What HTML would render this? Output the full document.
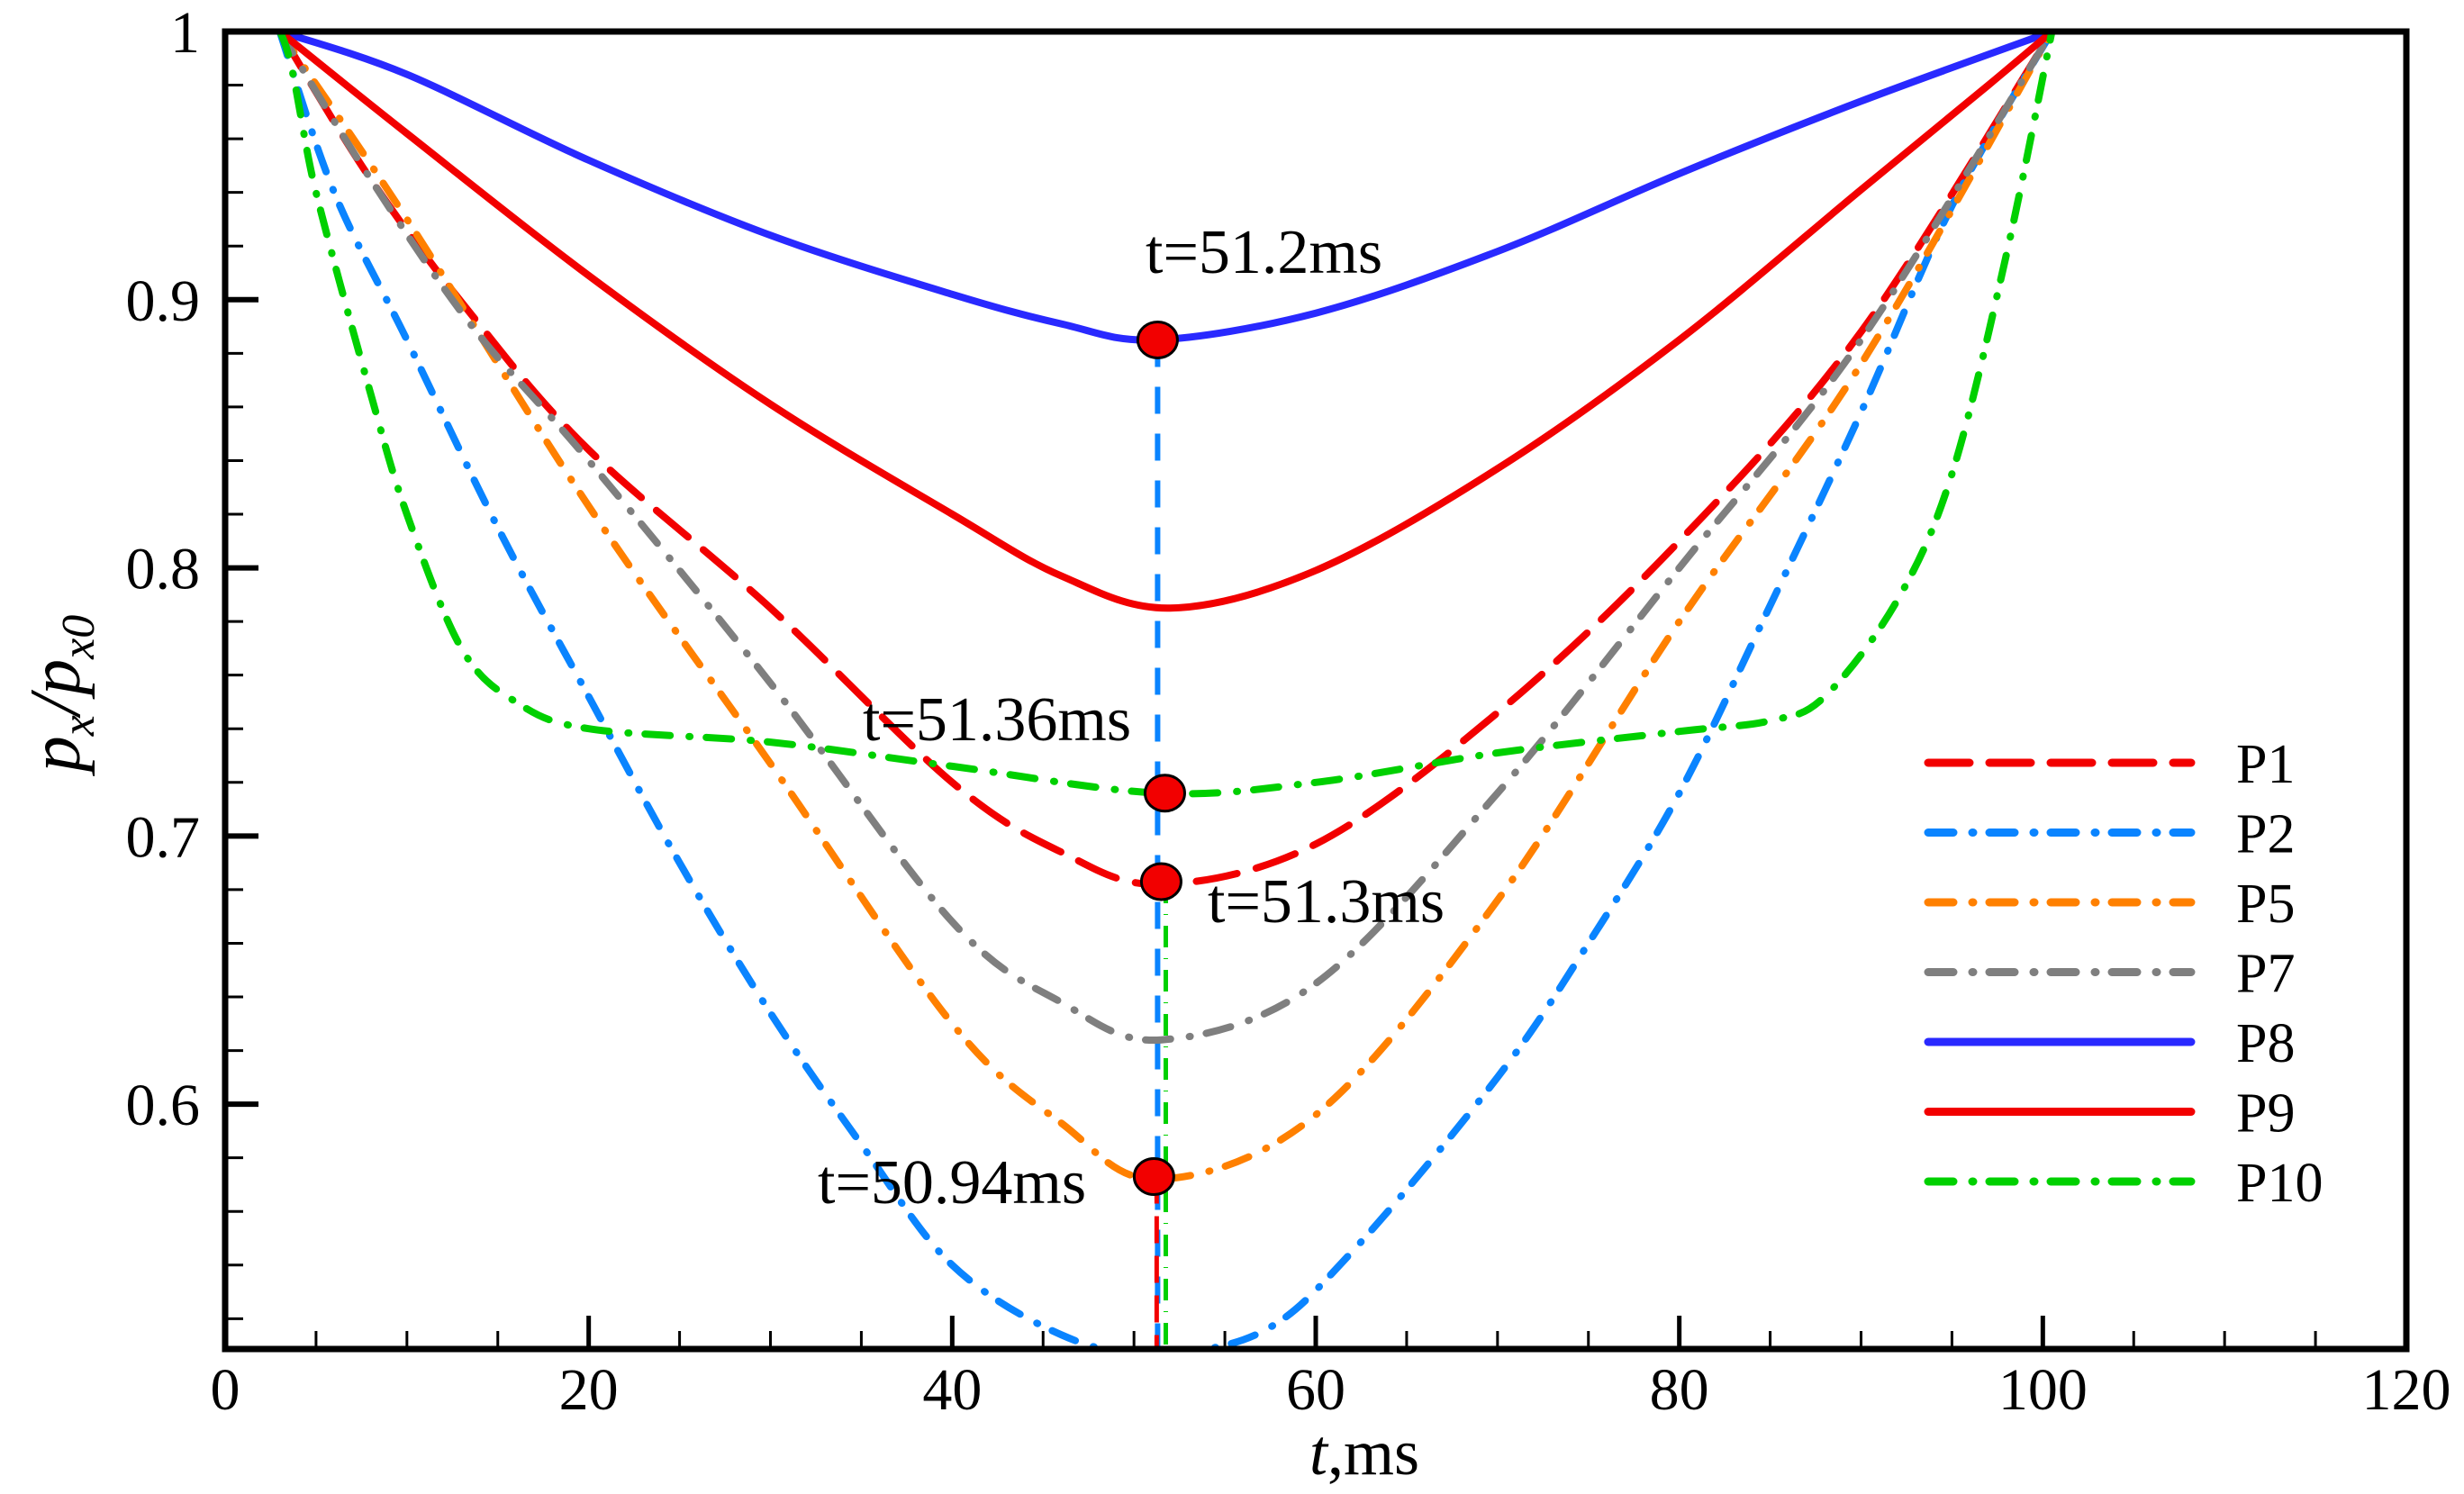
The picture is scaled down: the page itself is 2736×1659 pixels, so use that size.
<!DOCTYPE html>
<html><head><meta charset="utf-8"><style>
html,body{margin:0;padding:0;background:#fff;}
svg{display:block;}
text{font-family:"Liberation Serif",serif;fill:#000;}
</style></head><body>
<svg id="chart" width="2736" height="1659" viewBox="0 0 2736 1659" xmlns="http://www.w3.org/2000/svg">
<g id="series"></g>
<g id="axes"></g>
<g id="legend"></g>
</svg>
<script>
const xTicks=[0,20,40,60,80,100,120];
const yTicks=[0.6,0.7,0.8,0.9,1];
const yTickLabels=["0.6","0.7","0.8","0.9","1"];
const seriesNames=["P1","P2","P5","P7","P8","P9","P10"];
const p1T=[3,8,13.6,20,30,40,46,51.5,60,70,80,90,100.5];
const p1V=[1,0.945,0.894,0.844,0.785,0.72,0.694,0.682,0.697,0.746,0.81,0.888,1];
const p2T=[3,6,10,15,20,25,30,35,40,46,51,57,62,70,75,80,85,90,95,100.5];
const p2V=[1,0.94,0.885,0.815,0.752,0.69,0.634,0.585,0.54,0.514,0.507,0.515,0.545,0.61,0.66,0.716,0.786,0.858,0.935,1];
const p5T=[3,10,20,30,40,46,51.3,60,70,80,90,100.5];
const p5V=[1,0.93,0.823,0.727,0.63,0.593,0.572,0.596,0.676,0.78,0.876,1];
const p7T=[3,8,13.6,20,30,40,46,51.5,60,70,80,90,100.5];
const p7V=[1,0.945,0.89,0.84,0.757,0.668,0.638,0.624,0.645,0.716,0.8,0.885,1];
const p8T=[3,10,20,30,40,46,51.2,60,70,80,90,100.5];
const p8V=[1,0.984,0.952,0.924,0.902,0.891,0.885,0.895,0.918,0.947,0.974,1];
const p9T=[3,10,20,30,40,46,52,60,70,80,90,97,100.5];
const p9V=[1,0.962,0.909,0.861,0.82,0.797,0.785,0.799,0.837,0.885,0.941,0.98,1];
const p10T=[0,3,5,8,10,13,16,20,30,40,51.4,60,70,80,85,88,92,95,98,100.5];
const p10V=[1,1,0.94,0.865,0.82,0.77,0.75,0.74,0.735,0.726,0.716,0.72,0.731,0.739,0.743,0.752,0.788,0.835,0.917,1];
const markerT=[51.3,51.7,51.5,51.1];
const markerV=[0.885,0.716,0.683,0.573];
const annotText=["t=51.2ms","t=51.36ms","t=51.3ms","t=50.94ms"];

const L=250,R=2672,T=35,B=1498;
const X0=0,X1=120,Y0=0.5087,Y1=1;
const xs=t=>L+(t-X0)/(X1-X0)*(R-L);
const ys=v=>B-(v-Y0)/(Y1-Y0)*(B-T);
const NS="http://www.w3.org/2000/svg";
function mk(tag,attrs,parent){const e=document.createElementNS(NS,tag);for(const k in attrs)e.setAttribute(k,attrs[k]);parent.appendChild(e);return e;}
function smooth(T_,V_){
  const p=T_.map((t,i)=>[xs(t),ys(V_[i])]);
  let d="M"+p[0][0].toFixed(1)+","+p[0][1].toFixed(1);
  for(let i=0;i<p.length-1;i++){
    const a=p[Math.max(0,i-1)],b=p[i],c=p[i+1],e=p[Math.min(p.length-1,i+2)];
    const c1=[b[0]+(c[0]-a[0])/6,b[1]+(c[1]-a[1])/6],c2=[c[0]-(e[0]-b[0])/6,c[1]-(e[1]-b[1])/6];
    d+=" C"+c1[0].toFixed(1)+","+c1[1].toFixed(1)+" "+c2[0].toFixed(1)+","+c2[1].toFixed(1)+" "+c[0].toFixed(1)+","+c[1].toFixed(1);
  }
  return d;
}
const colors=["#f20000","#0a84ff","#ff8000","#7f7f7f","#2929ff","#f20000","#00d000"];
const dashes=["46 22","28 21 1 18","28 21 1 18","28 21 1 18","","","28 21 1 18"];
const Ts=[p1T,p2T,p5T,p7T,p8T,p9T,p10T];
const Vs=[p1V,p2V,p5V,p7V,p8V,p9V,p10V];
const sg=document.getElementById("series");
const clip=mk("clipPath",{id:"pc"},sg);mk("rect",{x:L,y:T,width:R-L,height:B-T},clip);
const cg=mk("g",{"clip-path":"url(#pc)"},sg);
const vl1=mk("line",{x1:xs(markerT[0]),y1:ys(markerV[0]),x2:xs(markerT[0]),y2:B,stroke:"#0a84ff","stroke-width":6,"stroke-dasharray":"30 22"},cg);


const vl2=mk("line",{x1:xs(markerT[3])+3,y1:ys(markerV[3]),x2:xs(markerT[3])+3,y2:B,stroke:"#f20000","stroke-width":5,"stroke-dasharray":"30 14"},cg);


const vl3=mk("line",{x1:xs(markerT[1])+1,y1:ys(markerV[2]),x2:xs(markerT[1])+1,y2:B,stroke:"#00d000","stroke-width":5,"stroke-dasharray":"24 12 1 12"},cg);


for(let i=0;i<7;i++){
  const a={d:smooth(Ts[i],Vs[i]),fill:"none",stroke:colors[i],"stroke-width":8,"stroke-linecap":"round","stroke-linejoin":"round"};
  if(dashes[i])a["stroke-dasharray"]=dashes[i];
  const p=mk("path",a,cg);
  
  
}
for(let i=0;i<markerT.length;i++){
  const c=mk("ellipse",{cx:xs(markerT[i]),cy:ys(markerV[i]),rx:22,ry:20,fill:"#f20000",stroke:"#000","stroke-width":3},sg);
  
  
}
const annPos=[[1272,303],[958,822],[1341,1024],[908,1336]];
for(let i=0;i<4;i++){
  const t=mk("text",{x:annPos[i][0],y:annPos[i][1],"font-size":70},sg);
  t.textContent=annotText[i];
  
  
}
const ag=document.getElementById("axes");
const fr=mk("rect",{x:L,y:T,width:R-L,height:B-T,fill:"none",stroke:"#000","stroke-width":7},ag);


for(let t=0;t<=120;t+=5){
  const major=t%20===0;
  const ln=mk("line",{x1:xs(t),y1:B,x2:xs(t),y2:B-(major?37:20),stroke:"#000","stroke-width":major?5:3},ag);
  
  
}
for(let k=26;k<=50;k++){
  const v=k/50; if(v<Y0)continue;
  const major=k%5===0;
  const ln=mk("line",{x1:L,y1:ys(v),x2:L+(major?37:20),y2:ys(v),stroke:"#000","stroke-width":major?6:3},ag);
  
  
}
xTicks.forEach(t=>{
  const tx=mk("text",{x:xs(t),y:1565,"font-size":66,"text-anchor":"middle"},ag);
  tx.textContent=String(t);
  
  
});
yTicks.forEach((v,i)=>{
  const tx=mk("text",{x:222,y:ys(v)+23,"font-size":66,"text-anchor":"end"},ag);
  tx.textContent=yTickLabels[i];
  
  
});
const xt=mk("text",{x:1515,y:1637,"font-size":72,"text-anchor":"middle"},ag);
xt.innerHTML='<tspan font-style="italic">t</tspan>,ms';


const yt=mk("text",{x:0,y:0,"font-size":80,"text-anchor":"middle","font-style":"italic",transform:"translate(88,770) rotate(-90)"},ag);
yt.innerHTML='p<tspan font-size="52" dy="16">x</tspan><tspan dy="-16">/p</tspan><tspan font-size="52" dy="16">x0</tspan>';


const lg=document.getElementById("legend");
for(let i=0;i<7;i++){
  const y=847+i*77.5;
  const g=mk("g",{},lg);
  
  
  const a={x1:2141,y1:y,x2:2433,y2:y,stroke:colors[i],"stroke-width":9,"stroke-linecap":"round"};
  if(dashes[i])a["stroke-dasharray"]=dashes[i];
  mk("line",a,g);
  const tx=mk("text",{x:2483,y:y+22,"font-size":62},g);
  tx.textContent=seriesNames[i];
}
</script>
</body></html>
